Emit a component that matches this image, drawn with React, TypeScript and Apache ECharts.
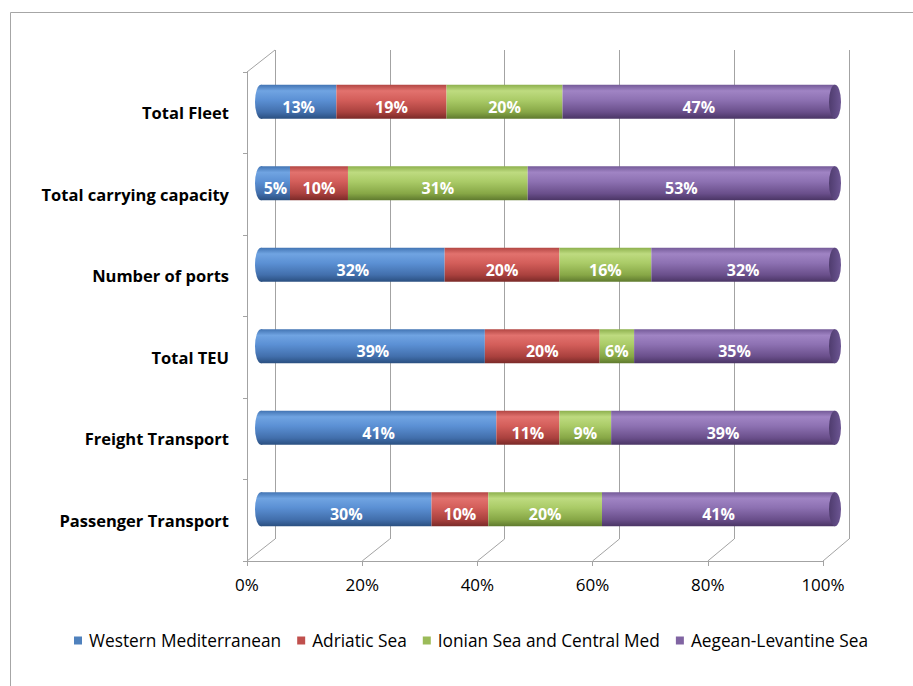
import React, { useEffect, useRef } from "react";
import * as echarts from "echarts";

// Indicators, listed top to bottom
const categories = [
  "Total Fleet",
  "Total carrying capacity",
  "Number of ports",
  "Total TEU",
  "Freight Transport",
  "Passenger Transport",
];

const seriesNames = [
  "Western Mediterranean",
  "Adriatic Sea",
  "Ionian Sea and Central Med",
  "Aegean-Levantine Sea",
];

// Share of each sub-region (%), one value per indicator
const westernMed = [13, 5, 32, 39, 41, 30];
const adriatic = [19, 10, 20, 20, 11, 10];
const ionianCentral = [20, 31, 16, 6, 9, 20];
const aegeanLevantine = [47, 53, 32, 35, 39, 41];

const xTicks = [0, 20, 40, 60, 80, 100];

const FONT = "'Open Sans', Lato, sans-serif";
const FRAME = "#a3a3a3";

// 3D box geometry: front plane, back wall and the mid plane that holds the bars
const FRONT = { left: 247, top: 72, width: 576, height: 489 };
const DEPTH = { dx: 28, dy: -22 };
const BACK = {
  left: FRONT.left + DEPTH.dx,
  top: FRONT.top + DEPTH.dy,
  width: 574,
  height: FRONT.height,
};
const MID = { left: 261, top: 61, width: 574, height: 489 };

const baseColors = ["#4f81bd", "#c0504d", "#9bbb59", "#8064a2"];

const cylinder = (stops: string[]) =>
  new echarts.graphic.LinearGradient(0, 0, 0, 1, [
    { offset: 0, color: stops[0] },
    { offset: 0.18, color: stops[1] },
    { offset: 0.45, color: stops[2] },
    { offset: 0.8, color: stops[3] },
    { offset: 1, color: stops[4] },
  ]);

const gradientStops = [
  ["#4274b3", "#70a4e2", "#5b90d4", "#426fac", "#2a4f80"],
  ["#b24643", "#e2726e", "#d35e5a", "#aa413e", "#7a2a28"],
  ["#8db04d", "#bedb80", "#aacb67", "#87a746", "#5f7a2e"],
  ["#745a98", "#a084c4", "#8d71b2", "#6a4f8b", "#4a3565"],
];

const ELLIPSE = "path://M50,0 A50,50 0 1,1 50,100 A50,50 0 1,1 50,0 Z";

export default function App() {
  const ref = useRef<HTMLDivElement>(null);

  useEffect(() => {
    if (!ref.current) return;
    const chart = echarts.init(ref.current, undefined, { renderer: "svg" });

    const rows = [westernMed, adriatic, ionianCentral, aegeanLevantine];
    const totals = categories.map((_, i) => rows.reduce((s, r) => s + r[i], 0));

    const barSeries = rows.map((vals, k) => ({
      name: seriesNames[k],
      type: "bar",
      stack: "share",
      xAxisIndex: 2,
      yAxisIndex: 2,
      barWidth: 34,
      z: 3,
      itemStyle: { color: cylinder(gradientStops[k]) },
      label: {
        show: true,
        position: "inside",
        offset: [0, 5],
        color: "#ffffff",
        fontFamily: FONT,
        fontWeight: "bold",
        fontSize: 16,
        formatter: (p: any) => `${p.data.raw}%`,
      },
      data: vals.map((v, i) => ({ value: (v / totals[i]) * 100, raw: v })),
    }));

    // Rounded back end of every cylinder
    const leftCaps = {
      type: "scatter",
      xAxisIndex: 2,
      yAxisIndex: 2,
      symbol: ELLIPSE,
      symbolSize: [12, 34],
      z: 2,
      silent: true,
      itemStyle: { color: cylinder(gradientStops[0]), opacity: 1 },
      data: categories.map((_, i) => [0, i]),
    };

    // Visible end face on the right
    const rightCaps = {
      type: "scatter",
      xAxisIndex: 2,
      yAxisIndex: 2,
      symbol: ELLIPSE,
      symbolSize: [12, 34],
      z: 4,
      silent: true,
      itemStyle: {
        color: new echarts.graphic.LinearGradient(0, 0, 1, 0, [
          { offset: 0, color: "#4f3c6e" },
          { offset: 0.6, color: "#604b84" },
          { offset: 1, color: "#6d5693" },
        ]),
        opacity: 1,
      },
      data: categories.map((_, i) => [100, i]),
    };

    // Floor and top edges joining the front plane to the back wall
    const step = FRONT.width / (xTicks.length - 1);
    const backStep = BACK.width / (xTicks.length - 1);
    const frontBottom = FRONT.top + FRONT.height;
    const floorLines = xTicks.map((_, k) => ({
      type: "line",
      silent: true,
      shape: {
        x1: FRONT.left + k * step,
        y1: frontBottom,
        x2: BACK.left + k * backStep,
        y2: frontBottom + DEPTH.dy,
      },
      style: { stroke: FRAME, lineWidth: 1 },
    }));

    chart.setOption({
      animation: false,
      backgroundColor: "#ffffff",
      textStyle: { fontFamily: FONT },
      graphic: [
        {
          type: "rect",
          silent: true,
          shape: { x: 10.5, y: 12.5, width: 1000, height: 1000 },
          style: { fill: "none", stroke: "#a6a6a6", lineWidth: 1 },
        },
        ...floorLines,
        {
          type: "line",
          silent: true,
          shape: {
            x1: FRONT.left,
            y1: FRONT.top,
            x2: BACK.left,
            y2: BACK.top,
          },
          style: { stroke: FRAME, lineWidth: 1 },
        },
      ],
      legend: {
        left: 69,
        top: 627,
        icon: "rect",
        itemWidth: 8,
        itemHeight: 8,
        itemGap: 16,
        textStyle: {
          fontFamily: FONT,
          fontSize: 17.3,
          color: "#000",
          padding: [0, 0, 0, 2],
        },
        data: seriesNames.map((n, k) => ({
          name: n,
          itemStyle: { color: baseColors[k] },
        })),
      },
      grid: [
        { ...BACK, containLabel: false },
        { ...FRONT, containLabel: false },
        { ...MID, containLabel: false },
      ],
      xAxis: [
        {
          gridIndex: 0,
          type: "value",
          min: 0,
          max: 100,
          interval: 20,
          axisLine: { show: false },
          axisTick: { show: false },
          axisLabel: { show: false },
          splitLine: { show: true, lineStyle: { color: FRAME, width: 1 } },
        },
        {
          gridIndex: 1,
          type: "value",
          min: 0,
          max: 100,
          interval: 20,
          axisLine: { show: true, lineStyle: { color: FRAME } },
          axisTick: { show: true, length: 5, lineStyle: { color: FRAME } },
          axisLabel: {
            formatter: "{value}%",
            fontFamily: FONT,
            fontSize: 17,
            color: "#000",
            margin: 15,
          },
          splitLine: { show: false },
        },
        {
          gridIndex: 2,
          type: "value",
          min: 0,
          max: 100,
          show: false,
        },
      ],
      yAxis: [
        { gridIndex: 0, type: "value", show: false },
        {
          gridIndex: 1,
          type: "category",
          inverse: true,
          data: categories,
          axisLine: { show: true, lineStyle: { color: FRAME } },
          axisTick: { show: true, length: 4, lineStyle: { color: FRAME } },
          axisLabel: {
            fontFamily: FONT,
            fontWeight: "bold",
            fontSize: 16.5,
            color: "#000",
            margin: 18,
          },
        },
        {
          gridIndex: 2,
          type: "category",
          inverse: true,
          data: categories,
          show: false,
        },
      ],
      series: [leftCaps, ...barSeries, rightCaps],
    });

    return () => chart.dispose();
  }, []);

  return (
    <div
      ref={ref}
      style={{ position: "fixed", left: 0, top: 0, width: 913, height: 686 }}
    />
  );
}
